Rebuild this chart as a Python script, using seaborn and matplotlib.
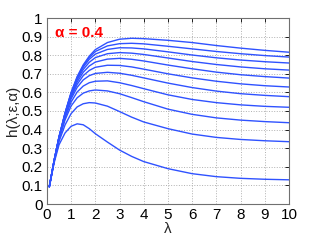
import pandas as pd
import matplotlib
matplotlib.use("Agg")
import matplotlib.pyplot as plt
import seaborn as sns

lam = [0.1, 0.3, 0.5, 0.75, 1, 1.25, 1.5, 1.75, 2, 2.5, 3, 3.5, 4, 5, 6, 7, 8, 9, 10]

# h values, lowest curve first
h0 = [0.093, 0.222, 0.318, 0.382, 0.418, 0.431, 0.426, 0.405, 0.378, 0.333, 0.290, 0.256, 0.228, 0.190, 0.163, 0.147, 0.138, 0.133, 0.130]
h1 = [0.093, 0.228, 0.336, 0.425, 0.486, 0.522, 0.539, 0.545, 0.543, 0.526, 0.497, 0.467, 0.441, 0.405, 0.376, 0.358, 0.347, 0.340, 0.335]
h2 = [0.093, 0.231, 0.346, 0.452, 0.527, 0.571, 0.596, 0.608, 0.613, 0.608, 0.593, 0.572, 0.550, 0.510, 0.482, 0.463, 0.451, 0.443, 0.437]
h3 = [0.093, 0.233, 0.351, 0.463, 0.548, 0.602, 0.634, 0.652, 0.660, 0.662, 0.652, 0.637, 0.620, 0.587, 0.562, 0.545, 0.533, 0.525, 0.520]
h4 = [0.093, 0.234, 0.355, 0.472, 0.565, 0.627, 0.667, 0.690, 0.702, 0.708, 0.703, 0.692, 0.678, 0.650, 0.626, 0.607, 0.593, 0.584, 0.577]
h5 = [0.093, 0.234, 0.357, 0.478, 0.575, 0.643, 0.690, 0.718, 0.735, 0.746, 0.745, 0.737, 0.725, 0.700, 0.678, 0.660, 0.646, 0.636, 0.629]
h6 = [0.093, 0.235, 0.358, 0.482, 0.583, 0.656, 0.708, 0.742, 0.763, 0.779, 0.783, 0.778, 0.769, 0.747, 0.727, 0.709, 0.695, 0.685, 0.677]
h7 = [0.093, 0.235, 0.359, 0.485, 0.589, 0.667, 0.723, 0.762, 0.787, 0.808, 0.814, 0.811, 0.804, 0.785, 0.766, 0.750, 0.737, 0.727, 0.720]
h8 = [0.093, 0.235, 0.360, 0.487, 0.594, 0.675, 0.735, 0.778, 0.806, 0.831, 0.840, 0.839, 0.834, 0.818, 0.801, 0.786, 0.774, 0.765, 0.758]
h9 = [0.093, 0.235, 0.360, 0.489, 0.597, 0.681, 0.743, 0.788, 0.820, 0.850, 0.862, 0.864, 0.861, 0.848, 0.834, 0.820, 0.808, 0.798, 0.790]
h10 = [0.093, 0.235, 0.360, 0.490, 0.600, 0.685, 0.748, 0.795, 0.830, 0.868, 0.886, 0.891, 0.889, 0.880, 0.868, 0.852, 0.838, 0.826, 0.816]

curves = [h0, h1, h2, h3, h4, h5, h6, h7, h8, h9, h10]

xticks = list(range(0, 11))
yticks = [0, 0.1, 0.2, 0.3, 0.4, 0.5, 0.6, 0.7, 0.8, 0.9, 1]
ytick_labels = ["0", "0.1", "0.2", "0.3", "0.4", "0.5", "0.6", "0.7", "0.8", "0.9", "1"]

rows = []
for i, h in enumerate(curves):
    for x, y in zip(lam, h):
        rows.append({"lam": x, "h": y, "curve": i})
df = pd.DataFrame(rows)

sns.set_style("white")
plt.rcParams["font.family"] = ["Liberation Sans", "DejaVu Sans"]

fig = plt.figure(figsize=(3.19, 2.40), dpi=100)
ax = fig.add_axes([0.147, 0.15, 0.759, 0.775])

sns.lineplot(data=df, x="lam", y="h", hue="curve", units="curve", estimator=None,
             palette=["#2f52ff"] * len(curves), legend=False, linewidth=1.0, ax=ax)

ax.set_xlim(0, 10)
ax.set_ylim(0, 1)
ax.set_xticks(xticks)
ax.set_yticks(yticks)
ax.set_yticklabels(ytick_labels)
ax.tick_params(direction="in", length=3, width=0.6, labelsize=11, pad=3,
               top=True, right=True, colors="black")
ax.grid(True, linestyle=":", color="#b0b0b0", linewidth=0.7)
for s in ax.spines.values():
    s.set_color("#707070")
    s.set_linewidth(0.8)

ax.set_xlabel("λ", fontsize=11, labelpad=0)
ax.set_ylabel("h(λ;ε,α)", fontsize=11, labelpad=1)
ax.text(0.035, 0.92, "α = 0.4", transform=ax.transAxes, color="red",
        fontsize=11, fontweight="bold", va="center", ha="left")

fig.savefig("out.png", dpi=100)
